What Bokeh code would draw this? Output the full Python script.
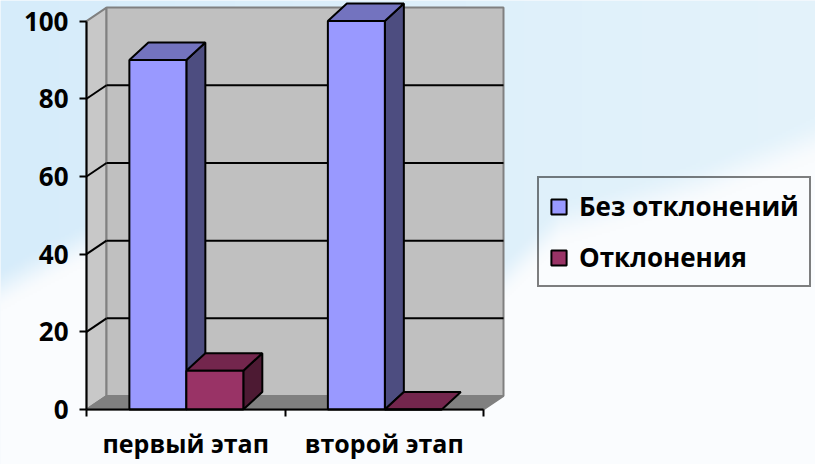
import numpy as np
from bokeh.plotting import figure
from bokeh.models import LinearAxis, FixedTicker, Legend, LegendItem, Range1d
from bokeh.embed import file_html
from bokeh.resources import INLINE

# ---------------- data ----------------
categories = ["первый этап", "второй этап"]
series_names = ["Без отклонений", "Отклонения"]
values_no_dev = [90, 100]
values_dev = [10, 0]
y_ticks = [0, 20, 40, 60, 80, 100]

# ---------------- styling ----------------
FRONT = ["#9999ff", "#993366"]
TOP = ["#7373bf", "#73264d"]
SIDE = ["#4d4d80", "#4d1a33"]
FONT = "Open Sans"

W, H = 815, 464
PX_X = 198.5   # px per category
PX_Y = 3.884   # px per value unit
X0_PX = 86     # data x=0 from frame left
Y0_PX = 409    # data y=0 from frame top
x_start, x_end = -X0_PX / PX_X, (W - X0_PX) / PX_X
y_start, y_end = -(H - Y0_PX) / PX_Y, Y0_PX / PX_Y

DXW, DYW = 20 / PX_X, 13.5 / PX_Y   # wall depth
DXB, DYB = 19 / PX_X, 17.5 / PX_Y   # bar depth
GAP, BW = 0.216, 0.287
ncat = len(categories)
ymax = y_ticks[-1]

p = figure(width=W, height=H, output_backend="svg", toolbar_location=None,
           x_range=Range1d(x_start, x_end), y_range=Range1d(y_start, y_end),
           x_axis_type=None, y_axis_type=None, min_border=0,
           outline_line_color=None, border_fill_color="#eef6fb",
           background_fill_color="#eef6fb")
p.grid.visible = False

# ---------------- sky background (decoration) ----------------
Wn, Hn = 408, 232
xs = (np.arange(Wn) + 0.5) * (W / Wn)
ys = H - (np.arange(Hn) + 0.5) * (H / Hn)
bnd = np.interp(xs, [0, 80, 300, 500, 560, 700, 815], [265, 222, 235, 260, 200, 160, 115])
t = np.clip((ys[:, None] - bnd[None, :]) / 45.0, 0, 1)
t = t * t * (3 - 2 * t)
hx = (xs / 815.0)[None, :]
blue = np.stack([214 + 14 * hx, 236 + 7 * hx, 250 + 1 * hx], axis=-1)
white = np.array([250, 252, 254], dtype=float)
col = blue * (1 - t[..., None]) + white * t[..., None]
img = np.empty((Hn, Wn), dtype=np.uint32)
view = img.view(dtype=np.uint8).reshape((Hn, Wn, 4))
view[..., :3] = col.astype(np.uint8)
view[..., 3] = 255
p.image_rgba(image=[img], x=x_start, y=y_start, dw=x_end - x_start, dh=y_end - y_start)

# ---------------- walls & floor ----------------
p.patch([0, DXW, DXW, 0], [0, DYW, ymax + DYW, ymax], fill_color="#c8c8c8",
        line_color="#808080", line_width=2)
p.patch([DXW, ncat + DXW, ncat + DXW, DXW], [DYW, DYW, ymax + DYW, ymax + DYW],
        fill_color="#c0c0c0", line_color="#808080", line_width=2)
p.patch([0, ncat, ncat + DXW, DXW], [0, 0, DYW, DYW], fill_color="#808080",
        line_color="#808080", line_width=2)
inner = [v for v in y_ticks if 0 < v < ymax]
p.segment(x0=[DXW] * len(inner), y0=[v + DYW for v in inner],
          x1=[ncat + DXW] * len(inner), y1=[v + DYW for v in inner],
          line_color="black", line_width=2)
p.segment(x0=[0] * len(inner), y0=inner, x1=[DXW] * len(inner),
          y1=[v + DYW for v in inner], line_color="black", line_width=2)

# ---------------- 3D bars ----------------
series = [values_no_dev, values_dev]
side_x, side_y, side_c, top_x, top_y, top_c = [], [], [], [], [], []
for j, vals in enumerate(series):
    for i, v in enumerate(vals):
        l = i + GAP + j * BW
        r = l + BW
        if v > 0:
            side_x.append([r, r + DXB, r + DXB, r])
            side_y.append([0, DYB, v + DYB, v])
            side_c.append(SIDE[j])
        top_x.append([l, r, r + DXB, l + DXB])
        top_y.append([v, v, v + DYB, v + DYB])
        top_c.append(TOP[j])
p.patches(side_x, side_y, fill_color=side_c, line_color="black", line_width=2)
p.patches(top_x, top_y, fill_color=top_c, line_color="black", line_width=2)

fronts = []
for j, vals in enumerate(series):
    lefts = [i + GAP + j * BW for i in range(ncat)]
    fronts.append(p.quad(left=lefts, right=[l + BW for l in lefts], bottom=0, top=vals,
                         fill_color=FRONT[j], line_color="black", line_width=2))

# ---------------- axes ----------------
yax = LinearAxis(fixed_location=0, bounds=(0, ymax), ticker=FixedTicker(ticks=y_ticks))
yax.axis_line_width = 2
yax.major_tick_line_width = 2
yax.major_tick_out = 7
yax.major_tick_in = 0
yax.minor_tick_out = 0
yax.minor_tick_in = 0
yax.major_label_standoff = 11
yax.major_label_text_font = FONT
yax.major_label_text_font_style = "bold"
yax.major_label_text_font_size = "26px"
yax.major_label_text_color = "black"
p.add_layout(yax, "left")

centers = [i + 0.5 for i in range(ncat)]
xax = LinearAxis(fixed_location=0, bounds=(0, ncat),
                 ticker=FixedTicker(ticks=centers, minor_ticks=list(range(ncat + 1))))
xax.major_label_overrides = {c: n for c, n in zip(centers, categories)}
xax.axis_line_width = 2
xax.major_tick_out = 0
xax.major_tick_in = 0
xax.minor_tick_out = 7
xax.minor_tick_in = 0
xax.minor_tick_line_width = 2
xax.minor_tick_line_color = "black"
xax.major_label_standoff = 9
xax.major_label_text_font = FONT
xax.major_label_text_font_style = "bold"
xax.major_label_text_font_size = "25px"
xax.major_label_text_color = "black"
p.add_layout(xax, "below")

# ---------------- legend ----------------
legend = Legend(items=[LegendItem(label=n, renderers=[r]) for n, r in zip(series_names, fronts)],
                location=(537, 177), orientation="vertical",
                glyph_width=19, glyph_height=19, label_height=34, spacing=15,
                padding=10, margin=0, label_standoff=11,
                label_text_font=FONT, label_text_font_style="bold",
                label_text_font_size="26px", label_text_color="black",
                border_line_color="black", border_line_width=2,
                background_fill_alpha=0)
p.add_layout(legend)

open("out.html", "w").write(file_html(p, INLINE))
